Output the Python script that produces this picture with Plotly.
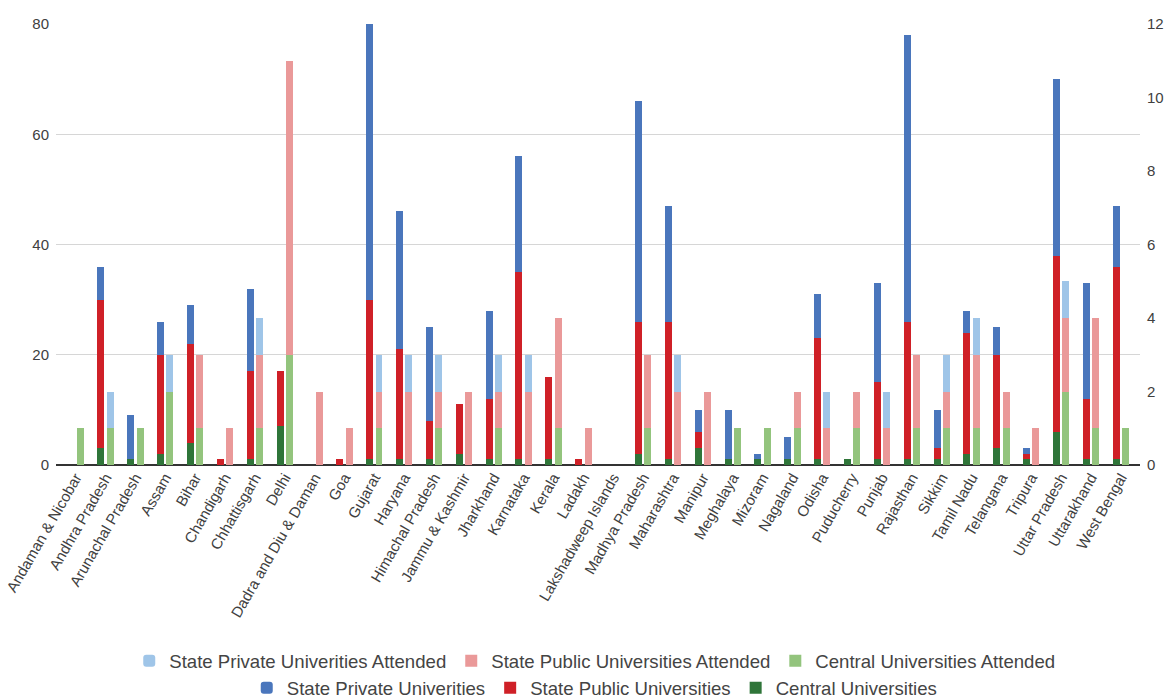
import plotly.graph_objects as go

states = ["Andaman & Nicobar", "Andhra Pradesh", "Arunachal Pradesh", "Assam", "Bihar",
          "Chandigarh", "Chhattisgarh", "Delhi", "Dadra and Diu & Daman", "Goa", "Gujarat",
          "Haryana", "Himachal Pradesh", "Jammu & Kashmir", "Jharkhand", "Karnataka", "Kerala",
          "Ladakh", "Lakshadweep Islands", "Madhya Pradesh", "Maharashtra", "Manipur",
          "Meghalaya", "Mizoram", "Nagaland", "Odisha", "Puducherry", "Punjab", "Rajasthan",
          "Sikkim", "Tamil Nadu", "Telangana", "Tripura", "Uttar Pradesh", "Uttarakhand",
          "West Bengal"]

# Left axis (counts of universities)
central = [0, 3, 1, 2, 4, 0, 1, 7, 0, 0, 1, 1, 1, 2, 1, 1, 1, 0, 0, 2, 1, 3, 1, 1, 1, 1, 1, 1, 1, 1, 2, 3, 1, 6, 1, 1]
state_public = [0, 27, 0, 18, 18, 1, 16, 10, 0, 1, 29, 20, 7, 9, 11, 34, 15, 1, 0, 24, 25, 3, 0, 0, 0, 22, 0, 14, 25, 2, 22, 17, 1, 32, 11, 35]
state_private = [0, 6, 8, 6, 7, 0, 15, 0, 0, 0, 50, 25, 17, 0, 16, 21, 0, 0, 0, 40, 21, 4, 9, 1, 4, 8, 0, 18, 52, 7, 4, 5, 1, 32, 21, 11]

# Right axis (universities attended)
central_att = [1, 1, 1, 2, 1, 0, 1, 3, 0, 0, 1, 0, 1, 0, 1, 0, 1, 0, 0, 1, 0, 0, 1, 1, 1, 0, 1, 0, 1, 1, 1, 1, 0, 2, 1, 1]
public_att = [0, 0, 0, 0, 2, 1, 2, 8, 2, 1, 1, 2, 1, 2, 1, 2, 3, 1, 0, 2, 2, 2, 0, 0, 1, 1, 1, 1, 2, 1, 2, 1, 1, 2, 3, 0]
private_att = [0, 1, 0, 1, 0, 0, 1, 0, 0, 0, 1, 1, 1, 0, 1, 1, 0, 0, 0, 0, 1, 0, 0, 0, 0, 1, 0, 1, 0, 1, 1, 0, 0, 1, 0, 0]

C_BLUE, C_RED, C_GREEN = "#4a76bc", "#cf2027", "#2f7539"
C_LBLUE, C_PINK, C_LGREEN = "#9fc5e8", "#ea9999", "#93c47d"

W = 0.234
OFF_D = -0.273
OFF_L = 0.039

fig = go.Figure()

dark = [("Central Universities", central, C_GREEN, 0),
        ("State Public Universities", state_public, C_RED, 0),
        ("State Private Univerities", state_private, C_BLUE, 3)]
light = [("Central Universities Attended", central_att, C_LGREEN, 0),
         ("State Public Universities Attended", public_att, C_PINK, 0),
         ("State Private Univerities Attended", private_att, C_LBLUE, 3)]

for name, vals, col, cr in dark:
    fig.add_trace(go.Bar(x=states, y=vals, name=name, width=W, offset=OFF_D,
                         marker=dict(color=col, line=dict(width=0), cornerradius=cr),
                         yaxis="y", legend="legend2"))
for name, vals, col, cr in light:
    fig.add_trace(go.Bar(x=states, y=vals, name=name, width=W, offset=OFF_L,
                         marker=dict(color=col, line=dict(width=0), cornerradius=cr),
                         yaxis="y2", legend="legend"))

FONT = "Liberation Sans, Arial, sans-serif"
fig.update_layout(
    width=1165, height=698,
    barmode="stack",
    plot_bgcolor="white", paper_bgcolor="white",
    margin=dict(l=56, r=25, t=24, b=232.5, autoexpand=False),
    font=dict(family=FONT, color="#444444", size=14),
    xaxis=dict(range=[-0.66, 35.64], tickangle=-60, tickfont=dict(size=15, color="#404040"),
               showgrid=False, showline=False, zeroline=False, ticks="", automargin=False),
    yaxis=dict(range=[0, 80], tickvals=[0, 20, 40, 60, 80], showgrid=True, gridcolor="#d6d6d6",
               gridwidth=1, zeroline=True, zerolinecolor="#333333", zerolinewidth=1.5,
               showline=False, tickfont=dict(size=15, color="#404040"), ticklabelstandoff=6,
               automargin=False),
    yaxis2=dict(range=[0, 12], tickvals=[0, 2, 4, 6, 8, 10, 12], overlaying="y", side="right",
                showgrid=False, zeroline=False, showline=False,
                tickfont=dict(size=15, color="#404040"), ticklabelstandoff=6, automargin=False),
    legend=dict(orientation="h", x=0.497, xanchor="center", y=-0.445, yanchor="middle",
                traceorder="reversed", font=dict(size=18.6, color="#444444"),
                bgcolor="rgba(0,0,0,0)"),
    legend2=dict(orientation="h", x=0.497, xanchor="center", y=-0.506, yanchor="middle",
                 traceorder="reversed", font=dict(size=18.6, color="#444444"),
                 bgcolor="rgba(0,0,0,0)"),
    showlegend=True,
)

fig.write_html("out.html")
